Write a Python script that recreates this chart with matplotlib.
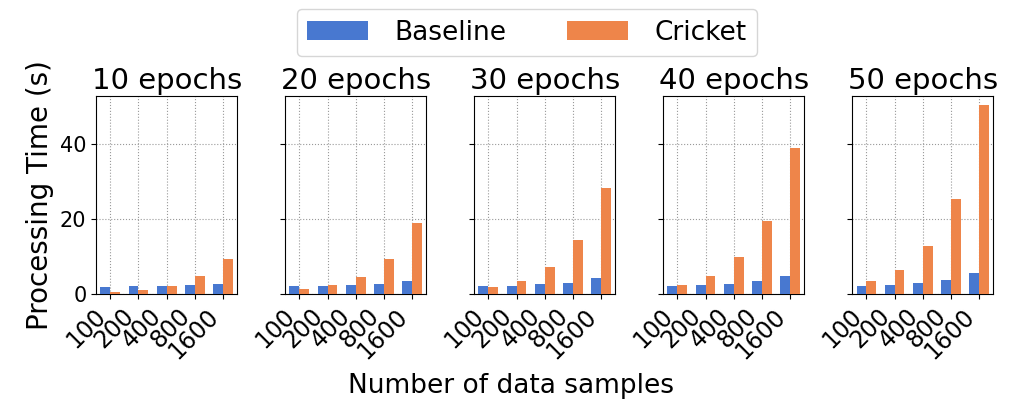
import numpy as np
import matplotlib.pyplot as plt

samples = ['100', '200', '400', '800', '1600']
epochs = [10, 20, 30, 40, 50]

baseline = [
	[2.0, 2.1, 2.1, 2.4, 2.75],
	[2.1, 2.2, 2.4, 2.75, 3.5],
	[2.1, 2.3, 2.6, 3.1, 4.2],
	[2.2, 2.4, 2.75, 3.5, 4.9],
	[2.2, 2.5, 2.9, 3.8, 5.6],
]
cricket = [
	[0.6, 1.15, 2.2, 4.8, 9.5],
	[1.25, 2.4, 4.7, 9.5, 18.9],
	[1.9, 3.6, 7.2, 14.3, 28.4],
	[2.5, 4.8, 9.8, 19.5, 38.8],
	[3.5, 6.4, 12.8, 25.3, 50.3],
]

blue = '#4878d0'
orange = '#ee854a'

fig, axes = plt.subplots(1, 5, figsize=(10.23, 4.03), dpi=100, sharey=True)
plt.subplots_adjust(left=0.094, right=0.971, bottom=0.27, top=0.762, wspace=0.34)

x = np.arange(len(samples))
w = 0.35
for i, ax in enumerate(axes):
	ax.bar(x - w/2, baseline[i], w, color=blue, label='Baseline', zorder=3)
	ax.bar(x + w/2, cricket[i], w, color=orange, label='Cricket', zorder=3)
	ax.set_title('%d epochs' % epochs[i], fontsize=21, pad=5)
	ax.set_xticks(x)
	ax.set_xticklabels(samples, rotation=45, ha='right', fontsize=17)
	ax.set_xlim(-0.5, 4.5)
	ax.grid(True, linestyle=':', color='#999999', linewidth=0.8, zorder=0)
	ax.tick_params(axis='y', labelsize=15)
	ax.set_yticks([0, 20, 40])

axes[0].set_ylim(0, 52.8)
axes[0].set_ylabel('Processing Time (s)', fontsize=20)
fig.text(0.5, 0.025, 'Number of data samples', ha='center', fontsize=19)

handles, labels = axes[0].get_legend_handles_labels()
fig.legend(handles, labels, loc='upper center', ncol=2, fontsize=19,
	bbox_to_anchor=(0.515, 1.01), handlelength=2.3, columnspacing=2.3, handletextpad=1.0)

plt.savefig('out.png', dpi=100)
